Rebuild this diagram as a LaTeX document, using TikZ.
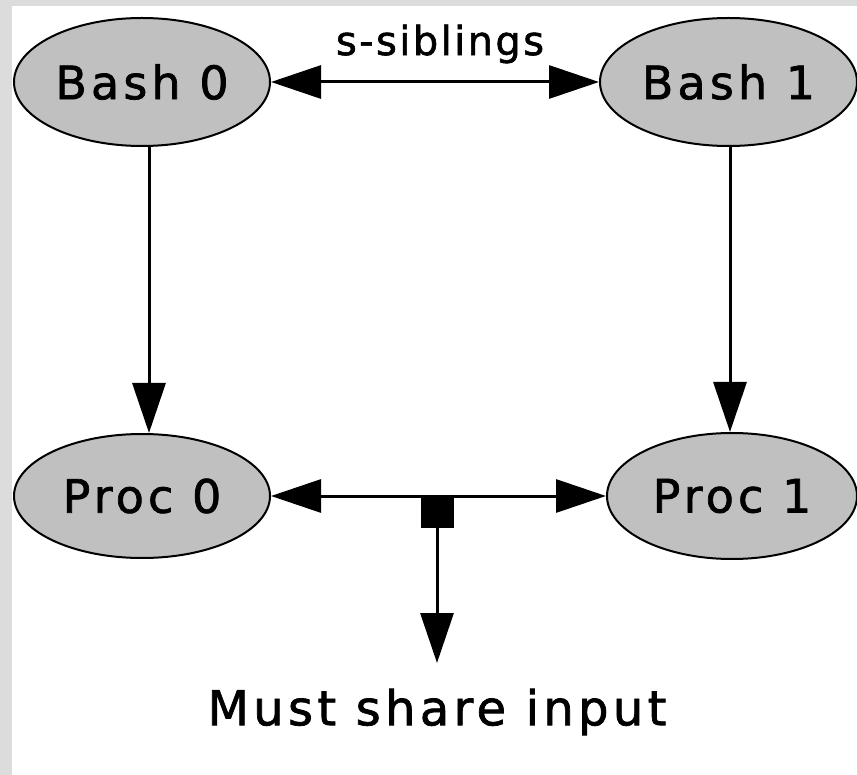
\documentclass[tikz,border=0pt]{standalone}
\usepackage{fontspec}
\setmainfont{DejaVu Sans}
\newfontfamily\spacedfont[LetterSpace=9,FakeBold=1.5]{DejaVu Sans}
\newfontfamily\smallspaced[LetterSpace=6,FakeBold=1.5]{DejaVu Sans}
\usetikzlibrary{arrows.meta,shapes.geometric}
\definecolor{framegrey}{HTML}{DCDCDC}
\definecolor{nodegrey}{HTML}{C0C0C0}
\begin{document}
\begin{tikzpicture}[x=1pt,y=-1pt,
  proc/.style={ellipse,draw=black,fill=nodegrey,line width=2pt,inner sep=0pt,
    minimum width=256pt,minimum height=128pt,font=\spacedfont\fontsize{46}{50}\selectfont},
  arr/.style={line width=3pt,-{Triangle[length=50pt,width=33pt]}},
  darr/.style={line width=3pt,{Triangle[length=50pt,width=33pt]}-{Triangle[length=50pt,width=33pt]}},
  lbl/.style={inner sep=0pt,font=\smallspaced\fontsize{40}{44}\selectfont},
  bigl/.style={inner sep=0pt,font=\spacedfont\fontsize{48}{52}\selectfont}]
\useasboundingbox (0,0) rectangle (857,775);
\fill[framegrey] (0,0) rectangle (857,775);
\fill[white] (12,6) rectangle (857,775);
\node[proc] (b0) at (142,82) {Bash 0};
\node[proc,minimum width=257pt] (b1) at (728.5,82) {Bash 1};
\node[proc,minimum width=256pt,minimum height=124pt] (p0) at (142,496) {Proc 0};
\node[proc,minimum width=250pt,minimum height=126pt] (p1) at (732,496) {Proc 1};
\node[lbl] (sib) at (440,44) {s-siblings};
\node[fill=black,minimum size=33pt,inner sep=0pt] (sq) at (437,511.5) {};
\node[bigl] (must) at (437,712) {Must share input};
\coordinate (v0) at (149,0);
\coordinate (v1) at (730,0);
\coordinate (tip) at (437,663);
\draw[darr] (b0) -- (b1);
\draw[darr] (p0) -- (p1);
\draw[arr] (v0 |- b0.south) -- (v0 |- p0.north);
\draw[arr] (v1 |- b1.south) -- (v1 |- p1.north);
\draw[arr] (sq.south) -- (tip);
\end{tikzpicture}
\end{document}
